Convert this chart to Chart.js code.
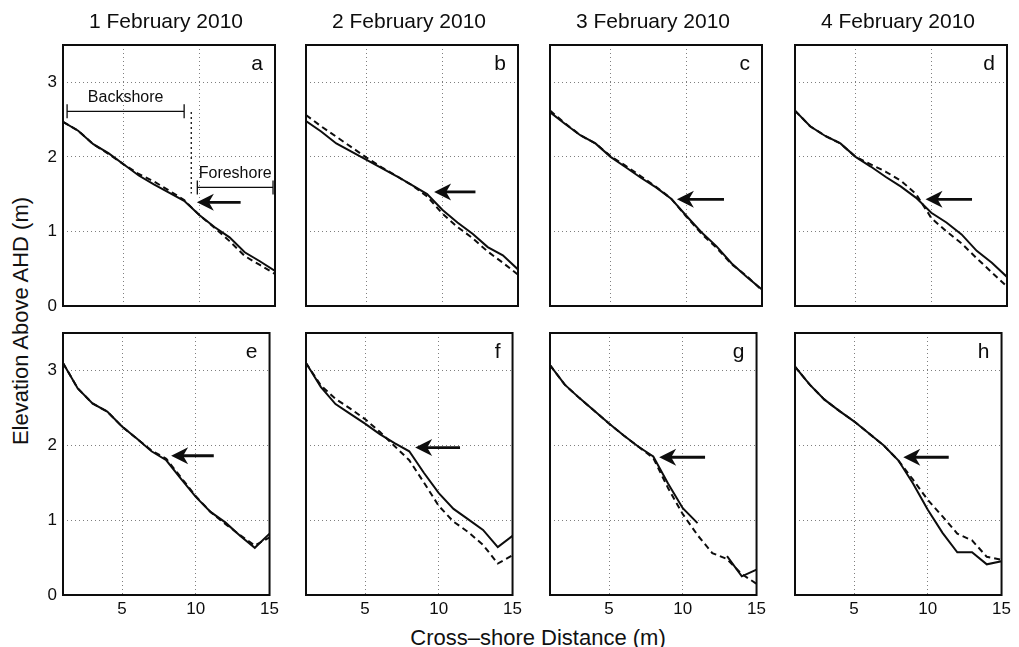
<!DOCTYPE html>
<html>
<head>
<meta charset="utf-8">
<script src="https://cdn.jsdelivr.net/npm/chart.js@4.4.0/dist/chart.umd.min.js"></script>
<style>
body { margin: 0; background: #fff; }
#fig { position: relative; width: 1019px; height: 647px; overflow: hidden;
       font-family: "Liberation Sans", Arial, sans-serif; color: #111; }
#fig canvas { position: absolute; }
.lbl { position: absolute; font-size: 22px; white-space: nowrap; }
#ylab { left: 21px; top: 321px; transform: translate(-50%, -50%) rotate(-90deg); }
#xlab { left: 538px; top: 638px; transform: translate(-50%, -50%); }
</style>
</head>
<body>
<div id="fig">
  <div class="lbl" id="ylab">Elevation Above AHD (m)</div>
  <div class="lbl" id="xlab">Cross–shore Distance (m)</div>
</div>
<script>
// cross-shore distance of each survey point (m)
const distance = [1, 2, 3, 4, 5, 6, 7, 8, 9, 10, 11, 12, 13, 14, 15];
const xTicks = [5, 10, 15];
const yTicks = [0, 1, 2, 3];

const titles = ['1 February 2010', '2 February 2010', '3 February 2010', '4 February 2010'];
const letters = ['a', 'b', 'c', 'd', 'e', 'f', 'g', 'h'];

// elevation profiles (m AHD): solid and dashed survey per panel
const solidA  = [2.47, 2.35, 2.17, 2.05, 1.90, 1.75, 1.63, 1.52, 1.41, 1.22, 1.06, 0.92, 0.72, 0.60, 0.47];
const dashedA = [2.47, 2.35, 2.17, 2.04, 1.90, 1.77, 1.67, 1.55, 1.42, 1.22, 1.05, 0.87, 0.67, 0.55, 0.43];
const solidB  = [2.48, 2.34, 2.18, 2.07, 1.96, 1.85, 1.74, 1.62, 1.50, 1.29, 1.12, 0.97, 0.79, 0.68, 0.49];
const dashedB = [2.56, 2.41, 2.27, 2.13, 1.99, 1.86, 1.74, 1.62, 1.47, 1.24, 1.06, 0.91, 0.73, 0.58, 0.42];
const solidC  = [2.60, 2.44, 2.29, 2.18, 2.00, 1.86, 1.72, 1.59, 1.44, 1.21, 0.99, 0.80, 0.57, 0.39, 0.22];
const dashedC = [2.62, 2.45, 2.29, 2.18, 2.01, 1.88, 1.74, 1.60, 1.44, 1.20, 0.97, 0.78, 0.56, 0.40, 0.21];
const solidD  = [2.62, 2.41, 2.28, 2.18, 2.00, 1.87, 1.73, 1.60, 1.45, 1.25, 1.12, 0.96, 0.74, 0.58, 0.39];
const dashedD = [2.62, 2.41, 2.28, 2.18, 2.00, 1.90, 1.80, 1.68, 1.50, 1.18, 1.00, 0.84, 0.64, 0.45, 0.26];
const solidE  = [3.10, 2.76, 2.56, 2.45, 2.25, 2.09, 1.92, 1.80, 1.55, 1.31, 1.11, 0.97, 0.79, 0.63, 0.82];
const dashedE = [3.10, 2.76, 2.56, 2.45, 2.25, 2.09, 1.93, 1.82, 1.57, 1.32, 1.11, 0.95, 0.80, 0.66, 0.77];
const solidF  = [3.10, 2.78, 2.55, 2.42, 2.29, 2.15, 2.03, 1.92, 1.63, 1.36, 1.15, 1.01, 0.87, 0.64, 0.79];
const dashedF = [3.10, 2.80, 2.62, 2.49, 2.35, 2.18, 1.99, 1.80, 1.50, 1.19, 0.98, 0.84, 0.67, 0.42, 0.53];
const solidG  = [3.07, 2.81, 2.63, 2.46, 2.29, 2.13, 1.98, 1.85, 1.49, 1.16, 0.96, null, 0.52, 0.25, 0.34];
const dashedG = [3.07, 2.81, 2.63, 2.46, 2.29, 2.13, 1.98, 1.83, 1.43, 1.08, 0.80, 0.56, 0.48, 0.28, 0.15];
const solidH  = [3.05, 2.81, 2.61, 2.46, 2.32, 2.16, 2.00, 1.80, 1.49, 1.14, 0.83, 0.57, 0.57, 0.41, 0.45];
const dashedH = [3.05, 2.81, 2.61, 2.46, 2.32, 2.16, 2.00, 1.80, 1.54, 1.27, 1.05, 0.82, 0.73, 0.51, 0.47];

const solids = [solidA, solidB, solidC, solidD, solidE, solidF, solidG, solidH];
const dasheds = [dashedA, dashedB, dashedC, dashedD, dashedE, dashedF, dashedG, dashedH];

// arrows marking the berm break (data units)
const arrowHeadX = [9.84, 9.46, 9.38, 9.62, 8.33, 8.40, 8.40, 8.34];
const arrowTailX = [12.73, 12.19, 12.49, 12.69, 11.22, 11.44, 11.51, 11.42];
const arrowY     = [1.39, 1.53, 1.43, 1.43, 1.86, 1.97, 1.84, 1.84];

// backshore / foreshore brackets in panel a
const zoneNames = ['Backshore', 'Foreshore'];
const zoneStart = [1.27, 9.87];
const zoneEnd   = [9.0, 14.87];
const zoneY     = [2.61, 1.59];
const dividerX = 9.47;
const dividerY = [2.60, 1.51];

const FONT = '"Liberation Sans", Arial, sans-serif';
const INK = '#0d0d0d';

const panelDecor = {
  id: 'panelDecor',
  afterDraw(chart, args, opts) {
    const i = opts.index;
    const { ctx, chartArea: area, scales: { x, y } } = chart;
    ctx.save();
    ctx.fillStyle = INK;
    ctx.strokeStyle = INK;

    // arrow
    const hx = x.getPixelForValue(arrowHeadX[i]);
    const tx = x.getPixelForValue(arrowTailX[i]);
    const ay = y.getPixelForValue(arrowY[i]);
    ctx.lineWidth = 2.8;
    ctx.beginPath();
    ctx.moveTo(tx, ay);
    ctx.lineTo(hx + 10, ay);
    ctx.stroke();
    ctx.beginPath();
    ctx.moveTo(hx, ay);
    ctx.lineTo(hx + 17, ay - 8.5);
    ctx.lineTo(hx + 12, ay);
    ctx.lineTo(hx + 17, ay + 8.5);
    ctx.closePath();
    ctx.fill();

    if (i === 0) {
      ctx.lineWidth = 1.3;
      ctx.font = '16px ' + FONT;
      ctx.textAlign = 'center';
      ctx.textBaseline = 'alphabetic';
      zoneNames.forEach((name, k) => {
        const x0 = x.getPixelForValue(zoneStart[k]);
        const x1 = x.getPixelForValue(zoneEnd[k]);
        const yy = y.getPixelForValue(zoneY[k]);
        ctx.beginPath();
        ctx.moveTo(x0, yy); ctx.lineTo(x1, yy);
        ctx.moveTo(x0, yy - 7); ctx.lineTo(x0, yy + 7);
        ctx.moveTo(x1, yy - 7); ctx.lineTo(x1, yy + 7);
        ctx.stroke();
        ctx.fillText(name, (x0 + x1) / 2, yy - 9);
      });
      const dx = x.getPixelForValue(dividerX);
      ctx.setLineDash([2, 3]);
      ctx.beginPath();
      ctx.moveTo(dx, y.getPixelForValue(dividerY[0]));
      ctx.lineTo(dx, y.getPixelForValue(dividerY[1]));
      ctx.stroke();
      ctx.setLineDash([]);
    }

    // frame
    ctx.lineWidth = 2;
    ctx.strokeRect(area.left, area.top, area.right - area.left, area.bottom - area.top);

    // panel letter
    ctx.font = '21px ' + FONT;
    ctx.textAlign = 'right';
    ctx.textBaseline = 'alphabetic';
    ctx.fillText(letters[i], area.right - 12, area.top + 25);

    // day title over the top row
    if (i < 4) {
      ctx.textAlign = 'center';
      ctx.fillText(titles[i], (area.left + area.right) / 2 - 3, area.top - 17);
    }
    ctx.restore();
  }
};

const plotLeft = [63, 306, 550, 795];
const plotTop = [45, 333];
const plotHeight = [261, 262];
const fig = document.getElementById('fig');

for (let i = 0; i < 8; i++) {
  const row = Math.floor(i / 4), col = i % 4;
  const cv = document.createElement('canvas');
  cv.width = 270;
  cv.height = 45 + plotHeight[row] + 35;
  cv.style.left = (plotLeft[col] - 50) + 'px';
  cv.style.top = (plotTop[row] - 45) + 'px';
  fig.appendChild(cv);

  const pts = arr => distance.map((d, k) => ({ x: d, y: arr[k] }));
  const gridOpts = { color: 'rgba(0,0,0,0.5)', lineWidth: 1, drawTicks: false };
  const tickFont = { size: 17, family: FONT };

  new Chart(cv, {
    type: 'line',
    data: {
      datasets: [
        { data: pts(dasheds[i]), borderColor: INK, borderWidth: 2, borderDash: [6, 4], pointRadius: 0, tension: 0 },
        { data: pts(solids[i]), borderColor: INK, borderWidth: 2, pointRadius: 0, tension: 0 }
      ]
    },
    options: {
      responsive: false,
      animation: false,
      events: [],
      layout: { padding: { top: 45, right: 8, left: 0, bottom: 0 } },
      plugins: { legend: { display: false }, tooltip: { enabled: false }, panelDecor: { index: i } },
      scales: {
        x: {
          type: 'linear', min: 1, max: 15,
          afterBuildTicks: s => { s.ticks = xTicks.map(v => ({ value: v })); },
          afterFit: s => { s.height = 35; },
          grid: gridOpts,
          border: { display: false, dash: [1, 3] },
          ticks: { display: row === 1, padding: 4, color: INK, font: tickFont, maxRotation: 0 }
        },
        y: {
          type: 'linear', min: 0, max: 3.5,
          afterBuildTicks: s => { s.ticks = yTicks.map(v => ({ value: v })); },
          afterFit: s => { s.width = 50; },
          grid: gridOpts,
          border: { display: false, dash: [1, 3] },
          ticks: { display: col === 0, padding: 6, color: INK, font: tickFont }
        }
      }
    },
    plugins: [panelDecor]
  });
}
</script>
</body>
</html>
